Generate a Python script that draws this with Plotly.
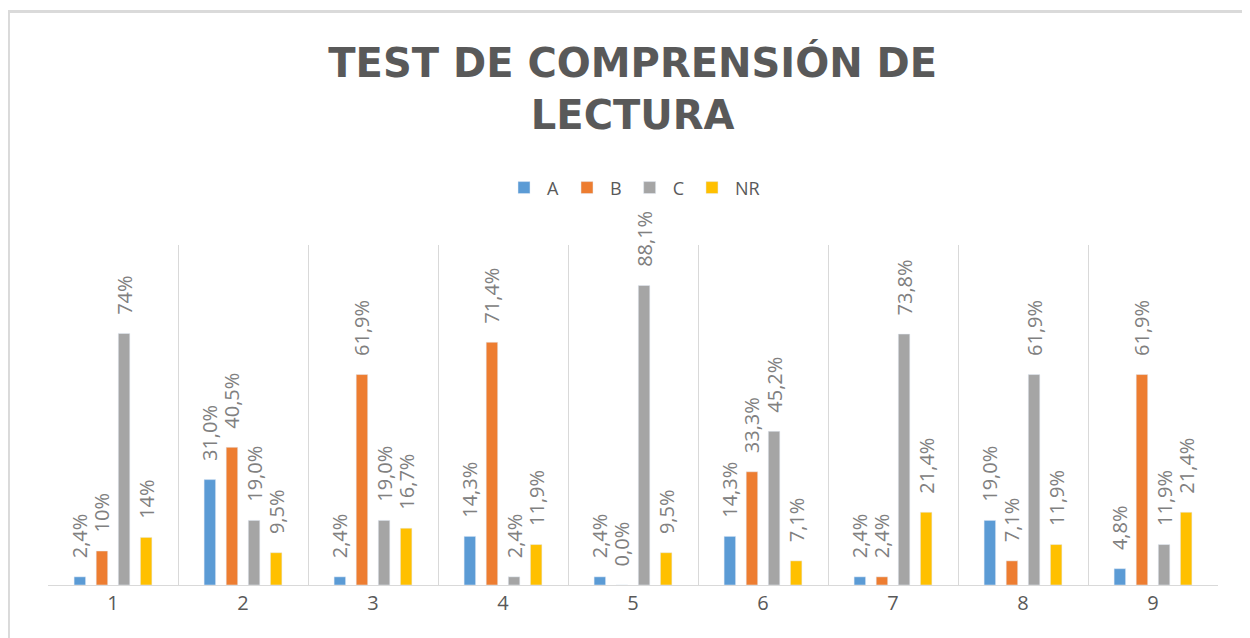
import plotly.graph_objects as go

# preguntas del test
preguntas = ["1", "2", "3", "4", "5", "6", "7", "8", "9"]

# porcentaje de respuestas por opcion
resp_a = [2.4, 31.0, 2.4, 14.3, 2.4, 14.3, 2.4, 19.0, 4.8]
resp_b = [10, 40.5, 61.9, 71.4, 0.0, 33.3, 2.4, 7.1, 61.9]
resp_c = [74, 19.0, 19.0, 2.4, 88.1, 45.2, 73.8, 61.9, 11.9]
resp_nr = [14, 9.5, 16.7, 11.9, 9.5, 7.1, 21.4, 11.9, 21.4]

# etiquetas tal como aparecen en el grafico
etiq_a = ["2,4%", "31,0%", "2,4%", "14,3%", "2,4%", "14,3%", "2,4%", "19,0%", "4,8%"]
etiq_b = ["10%", "40,5%", "61,9%", "71,4%", "0,0%", "33,3%", "2,4%", "7,1%", "61,9%"]
etiq_c = ["74%", "19,0%", "19,0%", "2,4%", "88,1%", "45,2%", "73,8%", "61,9%", "11,9%"]
etiq_nr = ["14%", "9,5%", "16,7%", "11,9%", "9,5%", "7,1%", "21,4%", "11,9%", "21,4%"]

series = [
    ("A", resp_a, etiq_a, "#5B9BD5"),
    ("B", resp_b, etiq_b, "#ED7D31"),
    ("C", resp_c, etiq_c, "#A5A5A5"),
    ("NR", resp_nr, etiq_nr, "#FFC000"),
]

fig = go.Figure()
for name, vals, labels, color in series:
    fig.add_trace(go.Bar(
        x=preguntas,
        y=vals,
        name=name,
        marker_color=color,
        # leading nbsp gives the gap between bar top and label
        text=["\u00a0\u00a0\u00a0" + t for t in labels],
        textposition="outside",
        textangle=-90,
        constraintext="none",
        cliponaxis=False,
        textfont=dict(size=20, color="#808080", family="Open Sans"),
    ))

# the page body has an 8px margin, so the figure is a bit smaller than the window
fig.update_layout(
    width=1242,
    height=630,
    barmode="group",
    bargap=0.32,
    bargroupgap=0.48,
    plot_bgcolor="white",
    paper_bgcolor="white",
    margin=dict(l=40, r=32, t=237, b=53),
    font=dict(family="Open Sans", color="#595959"),
    title=dict(
        text="TEST DE COMPRENSIÓN DE<br>LECTURA",
        x=0.503,
        xanchor="center",
        y=0.891,
        yanchor="top",
        font=dict(size=40, color="#595959", family="DejaVu Sans", weight="bold"),
    ),
    legend=dict(
        orientation="h",
        x=0.5,
        xanchor="center",
        y=1.168,
        yanchor="middle",
        itemwidth=36,
        font=dict(size=18, color="#595959"),
    ),
    # chart frame: only its top and left edges fall inside the picture
    shapes=[dict(
        type="rect", xref="paper", yref="paper",
        x0=-0.0338, x1=1.2, y0=-0.4, y1=1.687,
        line=dict(color="#dadada", width=3),
        layer="below",
    )],
)
fig.update_xaxes(
    tickson="boundaries",
    showgrid=True,
    gridcolor="#d9d9d9",
    showline=True,
    linecolor="#d9d9d9",
    linewidth=1,
    ticks="",
    tickfont=dict(size=20, color="#595959"),
)
fig.update_yaxes(
    range=[0, 100],
    showgrid=False,
    showticklabels=False,
    zeroline=False,
    showline=False,
)

fig.write_html("out.html")
